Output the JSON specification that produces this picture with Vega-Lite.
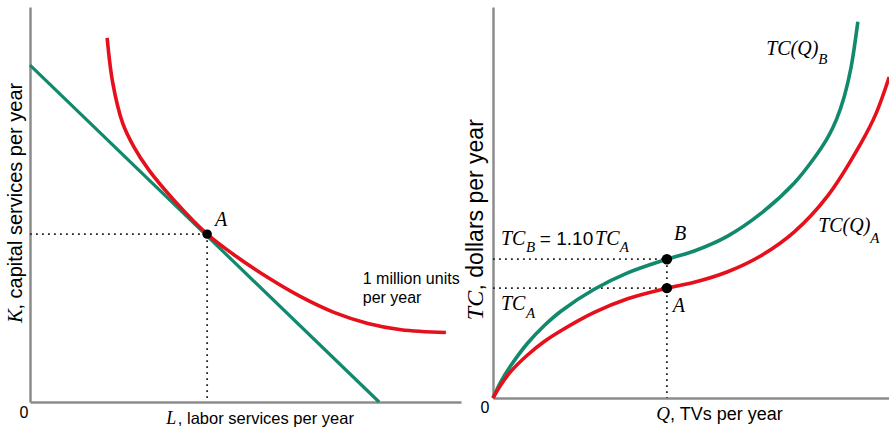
{
  "$schema": "https://vega.github.io/schema/vega-lite/v6.json",
  "background": "white",
  "padding": {"left": 5, "top": 7, "right": 0, "bottom": 0},
  "spacing": 3,
  "config": {
    "view": {"stroke": null},
    "axis": {"domainColor": "#8c8c8c", "domainWidth": 2.5, "ticks": false, "labels": false, "grid": false}
  },
  "datasets": {
    "isoquant": [
      {"x": 17.9, "y": 92.2}, {"x": 19.2, "y": 80.8}, {"x": 21.5, "y": 70.6}, {"x": 24.1, "y": 64.6},
      {"x": 27.6, "y": 58.7}, {"x": 33.4, "y": 51.1}, {"x": 41.1, "y": 42.5}, {"x": 47.3, "y": 37.3},
      {"x": 55.2, "y": 31.5}, {"x": 62.9, "y": 26.6}, {"x": 70.5, "y": 22.7}, {"x": 78.4, "y": 19.9},
      {"x": 86.1, "y": 18.3}, {"x": 96.5, "y": 17.6}
    ],
    "isocost": [{"x": 0, "y": 85.3}, {"x": 81, "y": 0}],
    "guideL": [
      {"seg": "h", "x": 0, "y": 42.5}, {"seg": "h", "x": 41.1, "y": 42.5},
      {"seg": "v", "x": 41.1, "y": 42.5}, {"seg": "v", "x": 41.1, "y": 0}
    ],
    "pointL": [{"x": 41.1, "y": 42.5}],
    "serifL": [{"x": 42.9, "y": 44.6, "label": "A"}],
    "sansL": [{"x": 77.2, "y": 29.8, "label": "1 million units\nper year"}],
    "zero": [{"x": 0, "y": 0, "label": "0"}],
    "xtitleL1": [{"x": 31.6, "y": 0, "label": "L"}],
    "xtitleL2": [{"x": 34.3, "y": 0, "label": ", labor services per year"}],
    "ytitleL1": [{"x": 0, "y": 20.0, "label": "K"}],
    "ytitleL2": [{"x": 0, "y": 23.4, "label": ", capital services per year"}],
    "tcA": [
      {"x": 0, "y": 0}, {"x": 2, "y": 3.4}, {"x": 4.5, "y": 6.8}, {"x": 8.7, "y": 11.0},
      {"x": 13, "y": 14.5}, {"x": 17.1, "y": 17.2}, {"x": 25.5, "y": 21.9}, {"x": 33.9, "y": 25.4},
      {"x": 43.8, "y": 28.1}, {"x": 50.7, "y": 29.6}, {"x": 59.1, "y": 32.3}, {"x": 67.5, "y": 36.4},
      {"x": 75.9, "y": 42.5}, {"x": 84.3, "y": 51.7}, {"x": 92.7, "y": 65.2}, {"x": 96.5, "y": 72.8},
      {"x": 99.8, "y": 82.1}
    ],
    "tcB": [
      {"x": 0, "y": 0}, {"x": 2, "y": 4.2}, {"x": 4.5, "y": 8.3}, {"x": 8.7, "y": 14.0},
      {"x": 13, "y": 18.6}, {"x": 17.1, "y": 22.2}, {"x": 25.5, "y": 27.8}, {"x": 33.9, "y": 32.0},
      {"x": 43.8, "y": 35.5}, {"x": 50.7, "y": 37.6}, {"x": 59.1, "y": 41.4}, {"x": 67.5, "y": 47.2},
      {"x": 75.9, "y": 55.0}, {"x": 80.5, "y": 60.8}, {"x": 84.3, "y": 66.6}, {"x": 86.5, "y": 71.2},
      {"x": 88.5, "y": 77.2}, {"x": 90.2, "y": 84.6}, {"x": 91.9, "y": 96.2}
    ],
    "guideR": [
      {"seg": "h1", "x": 0, "y": 35.5}, {"seg": "h1", "x": 43.8, "y": 35.5},
      {"seg": "h2", "x": 0, "y": 28.1}, {"seg": "h2", "x": 43.8, "y": 28.1},
      {"seg": "v", "x": 43.8, "y": 35.5}, {"seg": "v", "x": 43.8, "y": 0}
    ],
    "pointsR": [{"x": 43.8, "y": 35.5}, {"x": 43.8, "y": 28.1}],
    "serifR": [
      {"x": 45.6, "y": 40.4, "label": "B"}, {"x": 45.3, "y": 22.0, "label": "A"},
      {"x": 68.8, "y": 87.7, "label": "TC(Q)"}, {"x": 81.9, "y": 42.5, "label": "TC(Q)"},
      {"x": 2.0, "y": 39.1, "label": "TC"}, {"x": 25.7, "y": 39.1, "label": "TC"},
      {"x": 2.0, "y": 22.5, "label": "TC"}
    ],
    "subR": [
      {"x": 81.9, "y": 85.4, "label": "B"}, {"x": 95.0, "y": 39.6, "label": "A"},
      {"x": 8.3, "y": 37.3, "label": "B"}, {"x": 31.9, "y": 37.3, "label": "A"},
      {"x": 8.3, "y": 20.5, "label": "A"}
    ],
    "sansR": [{"x": 11.8, "y": 39.1, "label": "= 1.10"}],
    "xtitleR1": [{"x": 41.1, "y": 0, "label": "Q"}],
    "xtitleR2": [{"x": 44.6, "y": 0, "label": ", TVs per year"}],
    "ytitleR1": [{"x": 0, "y": 19.9, "label": "TC"}],
    "ytitleR2": [{"x": 0, "y": 27.5, "label": ", dollars per year"}]
  },
  "hconcat": [
    {
      "width": 431,
      "height": 395,
      "encoding": {
        "x": {"field": "x", "type": "quantitative", "scale": {"domain": [0, 100], "nice": false}, "axis": {"title": null}},
        "y": {"field": "y", "type": "quantitative", "scale": {"domain": [0, 100], "nice": false}, "axis": {"title": null}}
      },
      "layer": [
        {"data": {"name": "guideL"}, "mark": {"type": "line", "color": "#222222", "strokeWidth": 1.8, "strokeDash": [1.8, 4.2]}, "encoding": {"detail": {"field": "seg"}}},
        {"data": {"name": "isocost"}, "mark": {"type": "line", "color": "#10896c", "strokeWidth": 3.2}, "encoding": {}},
        {"data": {"name": "isoquant"}, "mark": {"type": "line", "color": "#e5101b", "strokeWidth": 3.6, "interpolate": "catmull-rom"}, "encoding": {}},
        {"data": {"name": "pointL"}, "mark": {"type": "point", "filled": true, "color": "black", "opacity": 1, "size": 90}},
        {"data": {"name": "serifL"}, "mark": {"type": "text", "font": "Liberation Serif", "fontStyle": "italic", "fontSize": 20, "align": "left", "baseline": "alphabetic"}, "encoding": {"text": {"field": "label"}}},
        {"data": {"name": "sansL"}, "mark": {"type": "text", "font": "Liberation Sans", "fontSize": 16, "align": "left", "baseline": "alphabetic", "lineBreak": "\n", "lineHeight": 19}, "encoding": {"text": {"field": "label"}}},
        {"data": {"name": "zero"}, "mark": {"type": "text", "font": "Liberation Sans", "fontSize": 16, "align": "center", "baseline": "alphabetic", "dx": -6, "dy": 16}, "encoding": {"text": {"field": "label"}}},
        {"data": {"name": "xtitleL1"}, "mark": {"type": "text", "font": "Liberation Serif", "fontStyle": "italic", "fontSize": 18, "align": "left", "baseline": "alphabetic", "dy": 22}, "encoding": {"text": {"field": "label"}}},
        {"data": {"name": "xtitleL2"}, "mark": {"type": "text", "font": "Liberation Sans", "fontSize": 16.5, "align": "left", "baseline": "alphabetic", "dy": 22}, "encoding": {"text": {"field": "label"}}},
        {"data": {"name": "ytitleL1"}, "mark": {"type": "text", "font": "Liberation Serif", "fontStyle": "italic", "fontSize": 21, "align": "left", "baseline": "alphabetic", "angle": 270, "dy": -8}, "encoding": {"text": {"field": "label"}}},
        {"data": {"name": "ytitleL2"}, "mark": {"type": "text", "font": "Liberation Sans", "fontSize": 20, "align": "left", "baseline": "alphabetic", "angle": 270, "dy": -8}, "encoding": {"text": {"field": "label"}}}
      ]
    },
    {
      "width": 397,
      "height": 391,
      "encoding": {
        "x": {"field": "x", "type": "quantitative", "scale": {"domain": [0, 100], "nice": false}, "axis": {"title": null}},
        "y": {"field": "y", "type": "quantitative", "scale": {"domain": [0, 100], "nice": false}, "axis": {"title": null}}
      },
      "layer": [
        {"data": {"name": "guideR"}, "mark": {"type": "line", "color": "#222222", "strokeWidth": 1.8, "strokeDash": [1.8, 4.2]}, "encoding": {"detail": {"field": "seg"}}},
        {"data": {"name": "tcB"}, "mark": {"type": "line", "color": "#10896c", "strokeWidth": 3.6, "interpolate": "catmull-rom"}, "encoding": {}},
        {"data": {"name": "tcA"}, "mark": {"type": "line", "color": "#e5101b", "strokeWidth": 3.6, "interpolate": "catmull-rom"}, "encoding": {}},
        {"data": {"name": "pointsR"}, "mark": {"type": "point", "filled": true, "color": "black", "opacity": 1, "size": 110}},
        {"data": {"name": "serifR"}, "mark": {"type": "text", "font": "Liberation Serif", "fontStyle": "italic", "fontSize": 20, "align": "left", "baseline": "alphabetic"}, "encoding": {"text": {"field": "label"}}},
        {"data": {"name": "subR"}, "mark": {"type": "text", "font": "Liberation Serif", "fontStyle": "italic", "fontSize": 15, "align": "left", "baseline": "alphabetic"}, "encoding": {"text": {"field": "label"}}},
        {"data": {"name": "sansR"}, "mark": {"type": "text", "font": "Liberation Sans", "fontSize": 19, "align": "left", "baseline": "alphabetic"}, "encoding": {"text": {"field": "label"}}},
        {"data": {"name": "zero"}, "mark": {"type": "text", "font": "Liberation Sans", "fontSize": 16, "align": "center", "baseline": "alphabetic", "dx": -8, "dy": 15}, "encoding": {"text": {"field": "label"}}},
        {"data": {"name": "xtitleR1"}, "mark": {"type": "text", "font": "Liberation Serif", "fontStyle": "italic", "fontSize": 19, "align": "left", "baseline": "alphabetic", "dy": 22}, "encoding": {"text": {"field": "label"}}},
        {"data": {"name": "xtitleR2"}, "mark": {"type": "text", "font": "Liberation Sans", "fontSize": 18, "align": "left", "baseline": "alphabetic", "dy": 22}, "encoding": {"text": {"field": "label"}}},
        {"data": {"name": "ytitleR1"}, "mark": {"type": "text", "font": "Liberation Serif", "fontStyle": "italic", "fontSize": 24, "align": "left", "baseline": "alphabetic", "angle": 270, "dy": -10}, "encoding": {"text": {"field": "label"}}},
        {"data": {"name": "ytitleR2"}, "mark": {"type": "text", "font": "Liberation Sans", "fontSize": 23, "align": "left", "baseline": "alphabetic", "angle": 270, "dy": -10}, "encoding": {"text": {"field": "label"}}}
      ]
    }
  ]
}
